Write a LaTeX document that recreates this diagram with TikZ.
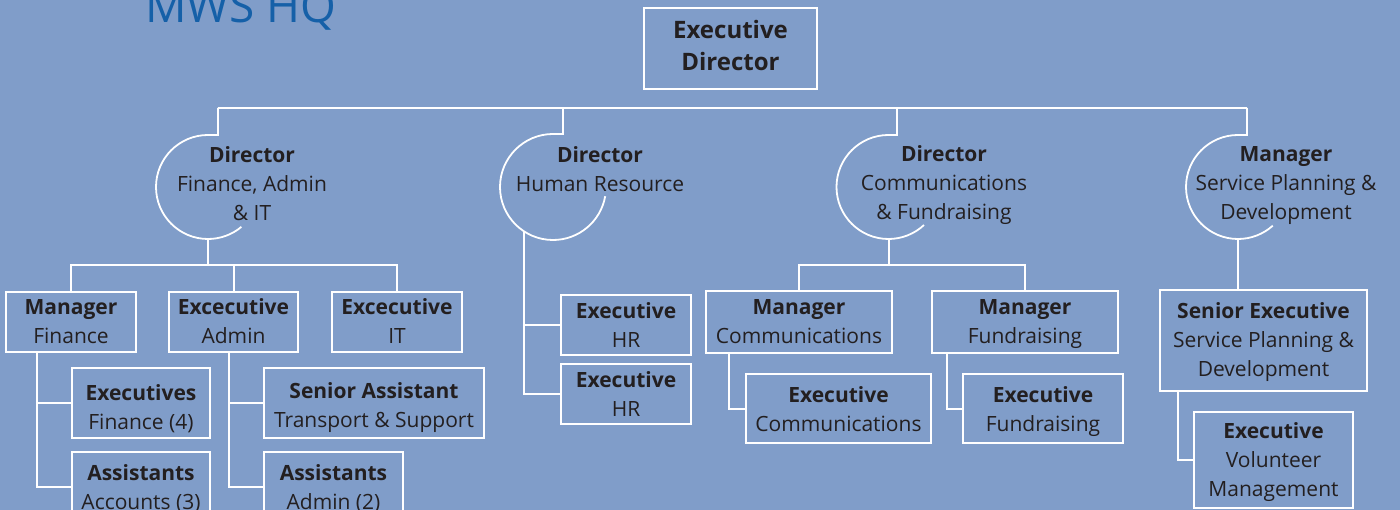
\documentclass[tikz,border=0pt]{standalone}
\usepackage{fontspec}
\setmainfont{Open Sans}
\definecolor{bg}{HTML}{809DC9}
\definecolor{txt}{HTML}{231F20}
\definecolor{ttl}{HTML}{1560A8}
\newcommand\bodyfont{\fontsize{21}{29}\selectfont}
\newcommand\bigfont{\fontsize{24}{32}\selectfont}
\tikzset{
  box/.style={draw=white, line width=2pt, inner sep=0pt},
  lbl/.style={inner sep=0pt, align=center, text=txt, font=\bodyfont},
  wire/.style={draw=white, line width=2pt},
  arcline/.style={draw=white, line width=1.8pt},
}
% #1 vertical text shift (canvas, + up), #2 name, #3 centre, #4 width, #5 height, #6 text
\newcommand\orgbox[6][0]{%
  \node[box, minimum width=#4pt, minimum height=#5pt] (#2) at (#3) {};
  \node[lbl] (#2-t) at ([yshift=#1pt]#2.center) {#6};}
\begin{document}
\begin{tikzpicture}[x=1pt,y=-1pt]
\fill[bg] (0,0) rectangle (1400,510);
\useasboundingbox (0,0) rectangle (1400,510);
\clip (0,0) rectangle (1400,510);
% title
\node[anchor=base west, inner sep=0pt, text=ttl, font=\fontsize{46}{46}\selectfont] (title) at (145,23) {MWS HQ};
% executive director
\node[box, minimum width=173pt, minimum height=81pt] (ed) at (730.5,48.5) {};
\node[lbl, font=\bigfont] (ed-t) at ([yshift=3pt]ed.center) {\textbf{Executive}\\\textbf{Director}};
% bus coordinates
\coordinate (t1) at (218,108);
\coordinate (t2) at (563,108);
\coordinate (t3) at (897,108);
\coordinate (t4) at (1247,108);
\draw[wire] (t1) -- (t4);
% circle centres
\coordinate (c1) at (208,187);
\coordinate (c2) at (553,187);
\coordinate (c3) at (888.5,187);
\coordinate (c4) at (1238,187);
\draw[arcline] (t1) |- ([yshift=52pt]c1) arc[start angle=90, end angle=310, radius=52pt];
\draw[arcline] (t2) |- ([yshift=53pt]c2) arc[start angle=90, end angle=350, radius=53pt];
\draw[arcline] (t3) |- ([yshift=52pt]c3) arc[start angle=90, end angle=313, radius=52pt];
\draw[arcline] (t4) |- ([yshift=52pt]c4) arc[start angle=90, end angle=312, radius=52pt];
% circle labels
\node[lbl] (d1) at (252,184) {\textbf{Director}\\Finance, Admin\\\& IT};
\node[lbl] (d2) at (600,169.5) {\textbf{Director}\\Human Resource};
\node[lbl] (d3) at (944,185.5) {\textbf{Director}\\Communications\\\& Fundraising};
\node[lbl] (d4) at (1286,186) {\textbf{Manager}\\Service Planning \&\\Development};
% level boxes
\orgbox{mfin}{71,322}{130}{60}{\textbf{Manager}\\Finance}
\orgbox[0.5]{exadm}{233.5,322}{129}{60}{\textbf{Excecutive}\\Admin}
\orgbox[0.5]{exit}{397,322}{130}{60}{\textbf{Excecutive}\\IT}
\orgbox[-5.5]{exfin}{141,403}{138}{70}{\textbf{Executives}\\Finance (4)}
\orgbox[-2]{asacc}{141,487}{138}{70}{\textbf{Assistants}\\Accounts (3)}
\orgbox[-4.5]{snas}{374,403}{220}{70}{\textbf{Senior Assistant}\\Transport \& Support}
\orgbox[-2]{asadm}{333.5,487}{139}{70}{\textbf{Assistants}\\Admin (2)}
\orgbox[-0.5]{hr1}{626,325}{130}{60}{\textbf{Executive}\\HR}
\orgbox{hr2}{626,394}{130}{60}{\textbf{Executive}\\HR}
\orgbox{mcom}{799,322}{186}{62}{\textbf{Manager}\\Communications}
\orgbox[-2.5]{mfund}{1025,322}{186}{62}{\textbf{Manager}\\Fundraising}
\orgbox[-1]{xcom}{838.5,408.5}{185}{69}{\textbf{Executive}\\Communications}
\orgbox[-3]{xfund}{1043,408.5}{160}{69}{\textbf{Executive}\\Fundraising}
\orgbox[-2]{sexec}{1263.5,340.5}{207}{101}{\textbf{Senior Executive}\\Service Planning \&\\Development}
\orgbox[-2]{xvol}{1273.5,460}{159}{96}{\textbf{Executive}\\Volunteer\\Management}
% finance branch
\coordinate (b1) at (208,265);
\draw[wire] ([yshift=-52pt]c1) -- (b1);
\draw[wire] (mfin.north) |- (b1) -| (exit.north);
\draw[wire] (exadm.north) -- (exadm.north |- b1);
\draw[wire] ([xshift=-34pt]mfin.south) |- (asacc.west);
\draw[wire] ([xshift=-34pt]mfin.south |- exfin.west) -- (exfin.west);
\draw[wire] ([xshift=-4.5pt]exadm.south) |- (asadm.west);
\draw[wire] ([xshift=-4.5pt]exadm.south |- snas.west) -- (snas.west);
% HR branch
\path (c2) ++(237:53pt) coordinate (s2);
\draw[wire] (s2) |- (hr2.west);
\draw[wire] (s2 |- hr1.west) -- (hr1.west);
% comm branch
\coordinate (b3) at (888.5,265);
\draw[wire] ([yshift=-52pt]c3) -- (b3);
\draw[wire] (mcom.north) |- (b3) -| (mfund.north);
\draw[wire] ([xshift=-70pt]mcom.south) |- (xcom.west);
\draw[wire] ([xshift=-78pt]mfund.south) |- (xfund.west);
% SPD branch
\draw[wire] ([yshift=-52pt]c4) -- (c4 |- sexec.north);
\draw[wire] ([xshift=-85.5pt]sexec.south) |- (xvol.west);
\end{tikzpicture}
\end{document}
